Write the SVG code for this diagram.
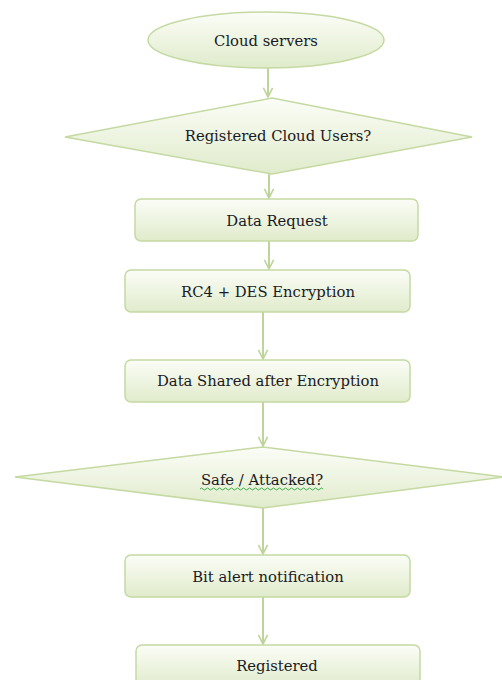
<svg xmlns="http://www.w3.org/2000/svg" width="502" height="680" viewBox="0 0 502 680">
  <defs>
    <linearGradient id="fillGrad" x1="0" y1="0" x2="0" y2="1">
      <stop offset="0" stop-color="#fbfdf7"/>
      <stop offset="1" stop-color="#e0ebcb"/>
    </linearGradient>
    <marker id="arrow" viewBox="0 0 12 12" refX="11" refY="6" markerWidth="11" markerHeight="11" orient="auto" markerUnits="userSpaceOnUse">
      <path d="M1,1 L11,6 L1,11" fill="none" stroke="#bfd49a" stroke-width="1.8"/>
    </marker>
  </defs>
  <style>
    .shape { fill: url(#fillGrad); stroke: #c5d9a2; stroke-width: 1.5; }
    .label { font-family: "DejaVu Serif", "Liberation Serif", serif; font-size: 14.8px; fill: #1a1a24; text-anchor: middle; }
    .conn { stroke: #bfd49a; stroke-width: 2; fill: none; marker-end: url(#arrow); }
  </style>
  <rect width="502" height="680" fill="#ffffff"/>

  <g id="connectors">
    <line class="conn" x1="268" y1="68" x2="268" y2="97"/>
    <line class="conn" x1="269" y1="174" x2="269" y2="198"/>
    <line class="conn" x1="269" y1="241" x2="269" y2="269"/>
    <line class="conn" x1="263" y1="312" x2="263" y2="359"/>
    <line class="conn" x1="263" y1="402" x2="263" y2="446"/>
    <line class="conn" x1="263" y1="508" x2="263" y2="554"/>
    <line class="conn" x1="263" y1="597" x2="263" y2="644"/>
  </g>

  <g id="cloud-servers">
    <ellipse class="shape" cx="266" cy="40" rx="118" ry="28"/>
    <text class="label" x="266" y="46">Cloud servers</text>
  </g>

  <g id="registered-users">
    <polygon class="shape" points="65,137 272,98 472,137 272,174"/>
    <text class="label" x="278" y="141">Registered Cloud Users?</text>
  </g>

  <g id="data-request">
    <rect class="shape" x="135" y="199" width="283" height="42" rx="6"/>
    <text class="label" x="277" y="226">Data Request</text>
  </g>

  <g id="encryption">
    <rect class="shape" x="125" y="270" width="285" height="42" rx="6"/>
    <text class="label" x="268" y="297">RC4 + DES Encryption</text>
  </g>

  <g id="data-shared">
    <rect class="shape" x="125" y="360" width="285" height="42" rx="6"/>
    <text class="label" x="268" y="386">Data Shared after Encryption</text>
  </g>

  <g id="safe-attacked">
    <polygon class="shape" points="15,477 263,447 504,477 263,508"/>
    <text class="label" x="262" y="485">Safe / Attacked?</text>
    <path d="M200,489 q1.5,-2 3,0 t3,0 t3,0 t3,0 t3,0 t3,0 t3,0 t3,0 t3,0 t3,0 t3,0 t3,0 t3,0 t3,0 t3,0 t3,0 t3,0 t3,0 t3,0 t3,0 t3,0 t3,0 t3,0 t3,0 t3,0 t3,0 t3,0 t3,0 t3,0 t3,0 t3,0 t3,0 t3,0 t3,0 t3,0 t3,0 t3,0 t3,0 t3,0 t3,0 t3,0" fill="none" stroke="#3fae49" stroke-width="1"/>
  </g>

  <g id="bit-alert">
    <rect class="shape" x="125" y="555" width="285" height="42" rx="6"/>
    <text class="label" x="268" y="582">Bit alert notification</text>
  </g>

  <g id="registered">
    <rect class="shape" x="136" y="645" width="284" height="42" rx="6"/>
    <text class="label" x="277" y="671">Registered</text>
  </g>
</svg>
